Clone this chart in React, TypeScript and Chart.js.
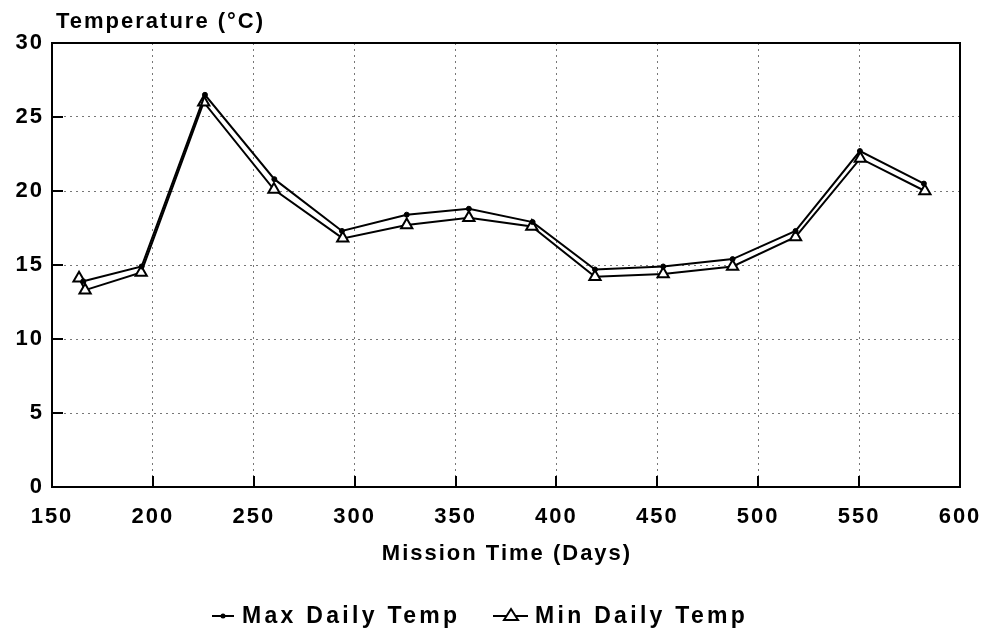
import React, { useEffect, useRef } from "react";
import { Chart, registerables } from "chart.js";

Chart.register(...registerables);

const dayMax = [165.5, 194.4, 225.8, 260.2, 293.7, 325.8, 356.6, 388.2, 419.1, 452.9, 487.3, 518.5, 550.4, 582.1];
const tempMax = [13.9, 14.9, 26.5, 20.8, 17.3, 18.4, 18.8, 17.9, 14.7, 14.9, 15.4, 17.3, 22.7, 20.5];

const dayMin = [163.4, 166.4, 194.2, 225.2, 260.0, 294.1, 325.8, 356.6, 387.8, 419.1, 452.9, 487.3, 518.5, 550.6, 582.6];
const tempMin = [14.1, 13.3, 14.5, 26.0, 20.1, 16.8, 17.7, 18.2, 17.6, 14.2, 14.4, 14.9, 16.9, 22.2, 20.0];

const seriesNames = ["Max Daily Temp", "Min Daily Temp"];
const yTitle = "Temperature (°C)";
const xTitle = "Mission Time (Days)";
const xRange = [150, 600];
const yRange = [0, 30];
const xStep = 50;
const yStep = 5;

const FONT = "'Liberation Sans', Arial, Helvetica, sans-serif";
const FS = 22;

export default function App() {
  const ref = useRef<HTMLCanvasElement | null>(null);

  useEffect(() => {
    const canvas = ref.current;
    if (!canvas) return;

    const decor = {
      id: "decor",
      beforeDraw(chart: any) {
        const ctx = chart.ctx;
        try { ctx.letterSpacing = "2px"; } catch (e) {}
      },
      afterDraw(chart: any) {
        const ctx = chart.ctx;
        const a = chart.chartArea;
        const xs = chart.scales.x;
        const ys = chart.scales.y;
        ctx.save();
        ctx.setLineDash([]);
        ctx.strokeStyle = "#000";
        // inner ticks
        ctx.lineWidth = 2;
        for (let v = xRange[0] + xStep; v < xRange[1]; v += xStep) {
          const px = Math.round(xs.getPixelForValue(v));
          ctx.beginPath();
          ctx.moveTo(px, a.bottom);
          ctx.lineTo(px, a.bottom - 11);
          ctx.stroke();
        }
        for (let v = yRange[0] + yStep; v < yRange[1]; v += yStep) {
          const py = Math.round(ys.getPixelForValue(v));
          ctx.beginPath();
          ctx.moveTo(a.left, py);
          ctx.lineTo(a.left + 11, py);
          ctx.stroke();
        }
        // frame
        ctx.lineWidth = 2;
        ctx.strokeRect(a.left, a.top, a.right - a.left, a.bottom - a.top);

        // texts
        ctx.fillStyle = "#000";
        try { ctx.letterSpacing = "2px"; } catch (e) {}
        ctx.font = `bold ${FS}px ${FONT}`;
        ctx.textAlign = "left";
        ctx.textBaseline = "alphabetic";
        ctx.fillText(yTitle, 56, 28);
        ctx.textAlign = "center";
        ctx.textBaseline = "middle";
        ctx.fillText(xTitle, (a.left + a.right) / 2 + 1, 554);

        // legend
        const ly = 616;
        const ds0 = chart.data.datasets[0];
        const ds1 = chart.data.datasets[1];
        ctx.lineWidth = 2;
        ctx.strokeStyle = ds0.borderColor;
        ctx.beginPath();
        ctx.moveTo(212, ly);
        ctx.lineTo(234, ly);
        ctx.stroke();
        ctx.fillStyle = "#000";
        ctx.beginPath();
        ctx.arc(223, ly, 2.5, 0, Math.PI * 2);
        ctx.fill();
        try { ctx.letterSpacing = "3.3px"; } catch (e) {}
        ctx.font = `bold 23px ${FONT}`;
        ctx.textAlign = "left";
        ctx.textBaseline = "middle";
        ctx.fillText(seriesNames[0], 242, ly + 1);

        ctx.strokeStyle = ds1.borderColor;
        ctx.beginPath();
        ctx.moveTo(493, ly);
        ctx.lineTo(528, ly);
        ctx.stroke();
        ctx.fillStyle = "#fff";
        ctx.beginPath();
        ctx.moveTo(511, ly - 7);
        ctx.lineTo(518, ly + 4);
        ctx.lineTo(504, ly + 4);
        ctx.closePath();
        ctx.fill();
        ctx.stroke();
        ctx.fillStyle = "#000";
        ctx.fillText(seriesNames[1], 535, ly + 1);
        ctx.restore();
      },
    };

    const tickFont = { family: FONT, size: FS, weight: "bold" as const };

    const chart = new Chart(canvas, {
      type: "line",
      data: {
        datasets: [
          {
            label: seriesNames[0],
            data: dayMax.map((d, i) => ({ x: d, y: tempMax[i] })),
            borderColor: "#000",
            backgroundColor: "#000",
            borderWidth: 2,
            pointStyle: "circle",
            pointRadius: 2.5,
            pointBorderWidth: 1,
            pointBackgroundColor: "#000",
            pointBorderColor: "#000",
            tension: 0,
          },
          {
            label: seriesNames[1],
            data: dayMin.map((d, i) => ({ x: d, y: tempMin[i] })),
            borderColor: "#000",
            backgroundColor: "#fff",
            borderWidth: 2,
            pointStyle: "triangle",
            pointRadius: 6.5,
            pointBorderWidth: 2,
            pointBackgroundColor: "#fff",
            pointBorderColor: "#000",
            tension: 0,
          },
        ],
      },
      options: {
        animation: false,
        responsive: false,
        maintainAspectRatio: false,
        layout: { padding: { left: 0, top: 43, right: 31, bottom: 0 } },
        plugins: {
          legend: { display: false },
          title: { display: false },
          tooltip: { enabled: false },
        },
        scales: {
          x: {
            type: "linear",
            min: xRange[0],
            max: xRange[1],
            ticks: { stepSize: xStep, color: "#000", font: tickFont, padding: 17, maxRotation: 0 },
            grid: { color: "#777", lineWidth: 1, drawTicks: false, tickLength: 0 },
            border: { display: false, dash: [2, 4] },
            afterFit: (s: any) => { s.height = 146; s.paddingLeft = 0; s.paddingRight = 0; },
          },
          y: {
            type: "linear",
            min: yRange[0],
            max: yRange[1],
            ticks: { stepSize: yStep, color: "#000", font: tickFont, padding: 8 },
            grid: { color: "#777", lineWidth: 1, drawTicks: false, tickLength: 0 },
            border: { display: false, dash: [2, 4] },
            afterFit: (s: any) => { s.width = 52; s.paddingTop = 0; s.paddingBottom = 0; },
          },
        },
      },
      plugins: [decor],
    });

    return () => chart.destroy();
  }, []);

  return (
    <div style={{ position: "absolute", left: 0, top: 0, width: 991, height: 633, background: "#fff" }}>
      <canvas ref={ref} width={991} height={633} style={{ display: "block" }} />
    </div>
  );
}
